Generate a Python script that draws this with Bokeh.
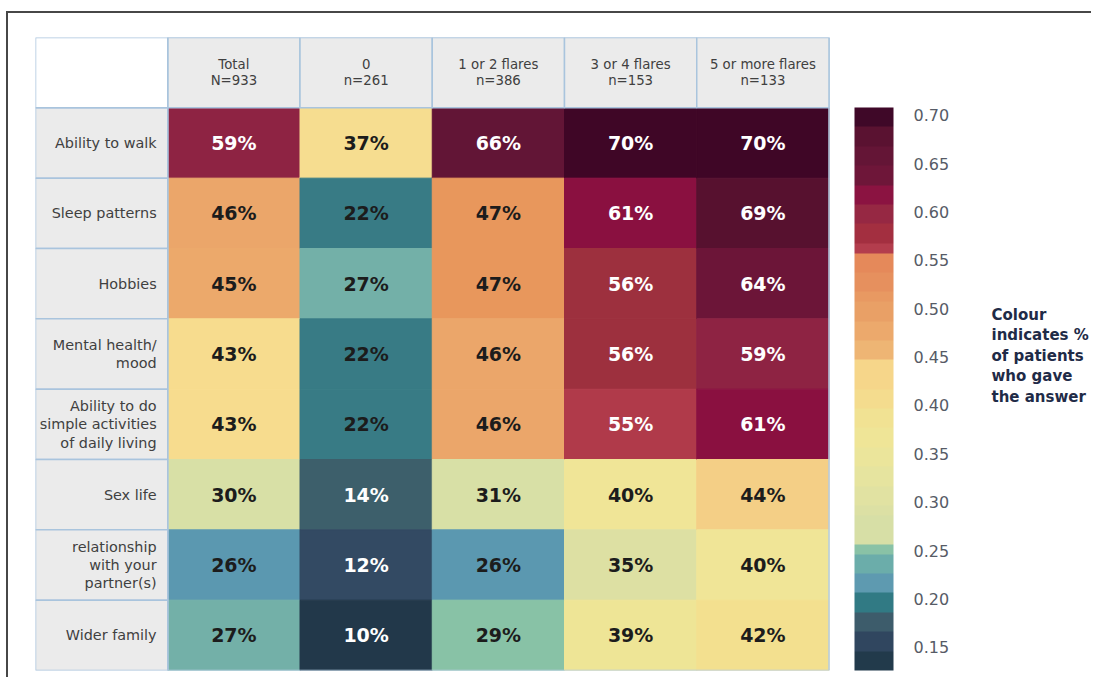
from bokeh.plotting import figure
from bokeh.models import (ColumnDataSource, FactorRange, LinearColorMapper, ColorBar,
                          FixedTicker, PrintfTickFormatter, Label)
from bokeh.transform import transform
from bokeh.core.properties import value
from bokeh.embed import file_html
from bokeh.resources import INLINE

# ---------------- data ----------------
row_labels = [
    "Ability to walk",
    "Sleep patterns",
    "Hobbies",
    "Mental health/\nmood",
    "Ability to do\nsimple activities\nof daily living",
    "Sex life",
    "relationship\nwith your\npartner(s)",
    "Wider family",
]
col_names = ["Total", "0", "1 or 2 flares", "3 or 4 flares", "5 or more flares"]
col_counts = ["N=933", "n=261", "n=386", "n=153", "n=133"]

total      = [0.59, 0.46, 0.45, 0.43, 0.43, 0.30, 0.26, 0.27]
zero       = [0.37, 0.22, 0.27, 0.22, 0.22, 0.14, 0.12, 0.10]
one_two    = [0.66, 0.47, 0.47, 0.46, 0.46, 0.31, 0.26, 0.29]
three_four = [0.70, 0.61, 0.56, 0.56, 0.55, 0.40, 0.35, 0.39]
five_plus  = [0.70, 0.69, 0.64, 0.59, 0.61, 0.44, 0.40, 0.42]
series = [total, zero, one_two, three_four, five_plus]

bar_ticks = [0.15, 0.20, 0.25, 0.30, 0.35, 0.40, 0.45, 0.50, 0.55, 0.60, 0.65, 0.70]
legend_text = "Colour\nindicates %\nof patients\nwho gave\nthe answer"

# ---------------- colour scales ----------------
cell_anchors = [
    (0.10, "#22384a"), (0.12, "#334a63"), (0.14, "#3d5f6b"), (0.22, "#387b85"),
    (0.26, "#5b98b0"), (0.27, "#73b0a8"), (0.29, "#88c2a6"), (0.30, "#d8e0a6"),
    (0.35, "#dde0a3"), (0.37, "#f6dd90"), (0.39, "#eee596"), (0.40, "#f0e597"),
    (0.42, "#f3e08f"), (0.43, "#f7dc8e"), (0.44, "#f4cf86"), (0.45, "#eca96b"),
    (0.46, "#eba66a"), (0.47, "#e8975c"), (0.55, "#b03a4a"), (0.56, "#9d303e"),
    (0.59, "#8e2343"), (0.61, "#8a1040"), (0.64, "#6c1538"), (0.66, "#621536"),
    (0.69, "#57112f"), (0.70, "#3f0626"),
]
bar_anchors = [
    (0.000, "#223a4b"), (0.145, "#30465f"), (0.164, "#3d5c6b"), (0.183, "#317a84"),
    (0.202, "#5e9ab0"), (0.223, "#6badaa"), (0.242, "#89c2a6"), (0.261, "#d7dfa6"),
    (0.282, "#dce0a4"), (0.300, "#e1e2a2"), (0.320, "#e6e49f"), (0.340, "#ebe59b"),
    (0.360, "#efe597"), (0.380, "#f1e293"), (0.400, "#f4dc8e"), (0.415, "#f6d68a"),
    (0.450, "#eeb574"), (0.467, "#eca96c"), (0.485, "#e9a066"), (0.503, "#e89962"),
    (0.520, "#e6905e"), (0.537, "#e5895a"), (0.553, "#b33d4d"), (0.572, "#a32f40"),
    (0.590, "#962843"), (0.610, "#8b1341"), (0.631, "#6e1639"), (0.650, "#641536"),
    (0.670, "#5a1231"), (0.690, "#3f0828"),
]


def build_palette(anchors, low, high, n):
    step = (high - low) / n
    pal = []
    for i in range(n):
        c = low + step * (i + 0.5)
        col = anchors[0][1]
        for v, h in anchors:
            if v <= c + 1e-9:
                col = h
        pal.append(col)
    return pal


cell_mapper = LinearColorMapper(palette=build_palette(cell_anchors, 0.095, 0.715, 62),
                                low=0.095, high=0.715)
bar_mapper = LinearColorMapper(palette=build_palette(bar_anchors, 0.126, 0.708, 58),
                               low=0.126, high=0.708)

# ---------------- sources ----------------
row_keys = [r.replace("\n", " ") for r in row_labels]
xs, ys, vs, txt, tcol = [], [], [], [], []
for c, vals in zip(col_names, series):
    for rk, v in zip(row_keys, vals):
        xs.append(c)
        ys.append(rk)
        vs.append(v)
        txt.append(f"{round(v * 100)}%")
        tcol.append("#ffffff" if (v >= 0.55 or v <= 0.14) else "#1c1c1c")
cells = ColumnDataSource(dict(x=xs, y=ys, v=vs, t=txt, tc=tcol))

x_factors = ["__lbl"] + col_names + ["__cb", "__leg"]
y_factors = list(reversed(["__hdr"] + row_keys))

p = figure(width=1085, height=666,
           x_range=FactorRange(factors=x_factors), y_range=FactorRange(factors=y_factors),
           x_axis_location=None, y_axis_location=None,
           toolbar_location=None, output_backend="svg",
           min_border_left=27, min_border_top=24, min_border_bottom=9, min_border_right=0)
p.grid.visible = False
p.outline_line_color = None
p.background_fill_color = "#ffffff"
p.border_fill_color = "#ffffff"
p.styles = {"border-top": "2px solid #474747", "border-left": "2px solid #474747",
            "margin-top": "11px", "margin-left": "6px"}

# data cells
p.rect(x="x", y="y", width=1, height=1, source=cells,
       fill_color=transform("v", cell_mapper), line_color=transform("v", cell_mapper),
       line_width=1)
p.text(x="x", y="y", text="t", source=cells, text_color="tc",
       text_font=value("DejaVu Sans"), text_font_style="bold", text_font_size="19px",
       text_align="center", text_baseline="middle")

# outer border of the data + header block (centred on middle column / middle row)
p.rect(x=[col_names[2]], y=[row_keys[3]], width=len(col_names), height=len(row_keys) + 1,
       fill_color=None, line_color="#b4cce2", line_width=1.5)

# row label cells
p.rect(x=["__lbl"] * len(row_keys), y=row_keys, width=1, height=1,
       fill_color="#ebebeb", line_color="#a9c4dd", line_width=1.5)
p.text(x=["__lbl"] * len(row_keys), y=row_keys, text=row_labels, x_offset=55,
       text_font=value("DejaVu Sans"), text_font_size="14.4px", text_color="#404040",
       text_align="right", text_baseline="middle", text_line_height=1.15)

# header cells
p.rect(x=col_names, y=["__hdr"] * len(col_names), width=1, height=1,
       fill_color="#ebebeb", line_color="#a9c4dd", line_width=1.5)
p.rect(x=["__lbl"], y=["__hdr"], width=1, height=1,
       fill_color="#ffffff", line_color="#a9c4dd", line_width=1.5)
p.text(x=col_names, y=["__hdr"] * len(col_names),
       text=[f"{c}\n{n}" for c, n in zip(col_names, col_counts)],
       text_font=value("DejaVu Sans"), text_font_size="13.3px", text_color="#404040",
       text_align="center", text_baseline="middle", text_line_height=1.05)

# colour bar
cb = ColorBar(color_mapper=bar_mapper, orientation="vertical", width=39, height=563,
              location=(819, 0), margin=0, padding=0,
              ticker=FixedTicker(ticks=bar_ticks),
              formatter=PrintfTickFormatter(format="%.2f"),
              label_standoff=20, major_tick_line_color=None, minor_tick_line_color=None,
              bar_line_color=None, border_line_color=None, background_fill_color=None,
              major_label_text_font="DejaVu Sans", major_label_text_font_size="16px",
              major_label_text_color="#565b66")
p.add_layout(cb, "center")

p.add_layout(Label(x=956, y=365, x_units="screen", y_units="screen", text=legend_text,
                   text_font="DejaVu Sans", text_font_style="bold", text_font_size="15px",
                   text_color="#1f2b47", text_baseline="top", text_line_height=1.14))

open("out.html", "w").write(file_html(p, INLINE))
